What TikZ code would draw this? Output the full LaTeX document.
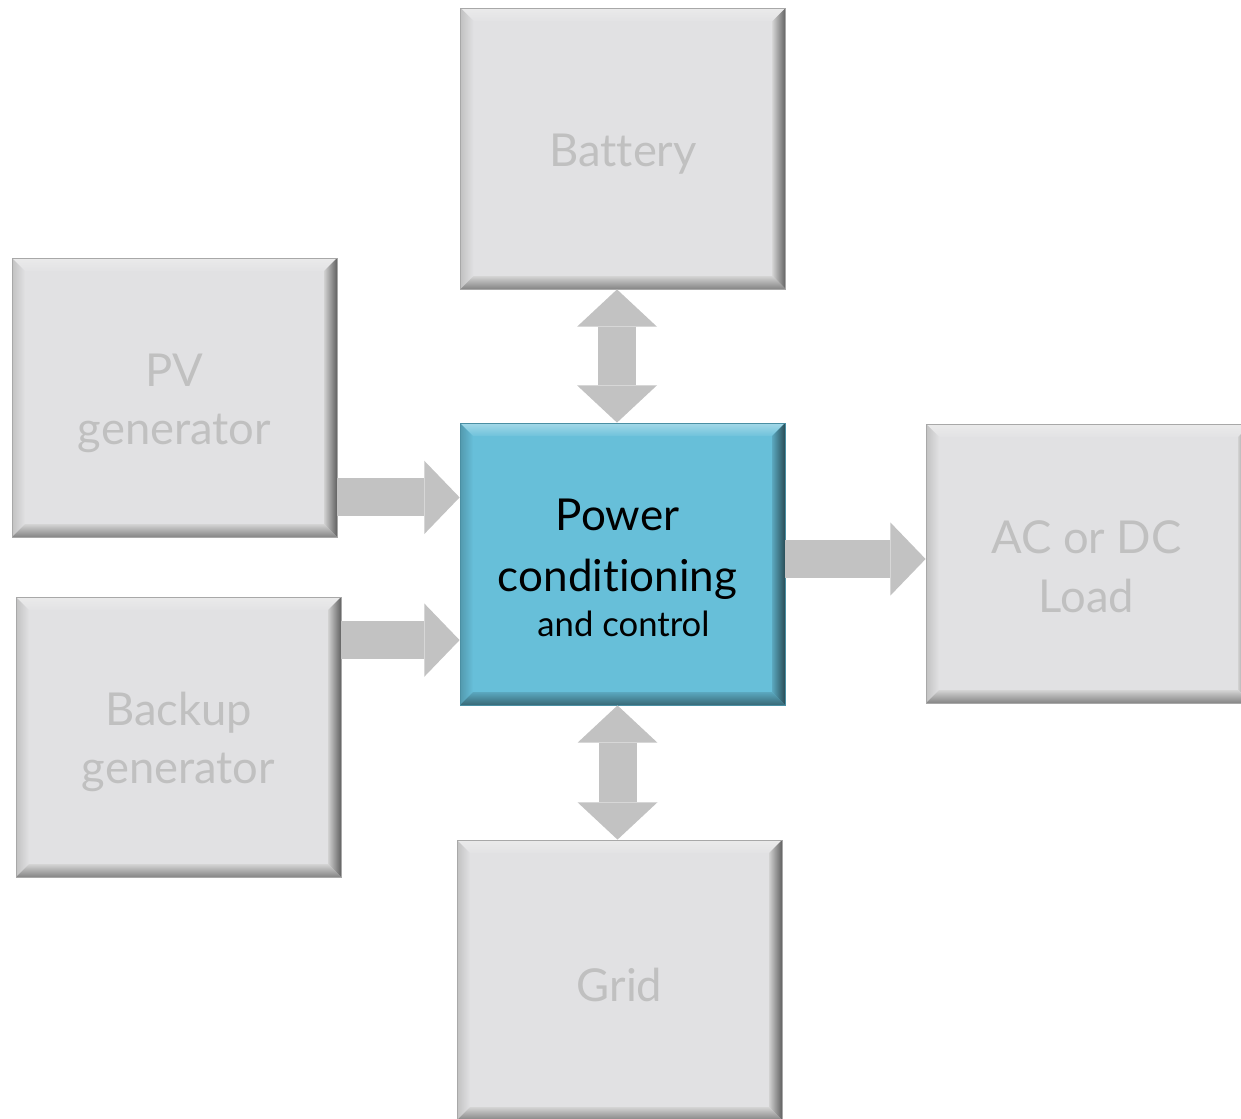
\documentclass[tikz,border=0pt]{standalone}
\usepackage{fontspec}
\setmainfont{Lato}[Ligatures={NoCommon}]
\usetikzlibrary{calc,arrows.meta}
\definecolor{boxfill}{HTML}{E1E1E3}
\definecolor{boxtext}{HTML}{C0C0C0}
\definecolor{boxline}{HTML}{A8A8A8}
\definecolor{bluefill}{HTML}{67BFD9}
\definecolor{blueline}{HTML}{4A8FA3}
\definecolor{arrowgrey}{HTML}{C2C2C2}
\newlength{\bw}
\setlength{\bw}{9.75pt}
\tikzset{
  bevelbox/.style n args={8}{
    rectangle, inner sep=0pt,
    path picture={
      \coordinate (NW) at (path picture bounding box.north west);
      \coordinate (NE) at (path picture bounding box.north east);
      \coordinate (SW) at (path picture bounding box.south west);
      \coordinate (SE) at (path picture bounding box.south east);
      \shade[top color=#1,bottom color=#2] (NW) -- (NE) -- ([xshift=-\bw,yshift=-\bw]NE) -- ([xshift=\bw,yshift=-\bw]NW) -- cycle;
      \shade[left color=#3,right color=#4] (NW) -- ([xshift=\bw,yshift=-\bw]NW) -- ([xshift=\bw,yshift=\bw]SW) -- (SW) -- cycle;
      \shade[left color=#5,right color=#6] (NE) -- (SE) -- ([xshift=-\bw,yshift=\bw]SE) -- ([xshift=-\bw,yshift=-\bw]NE) -- cycle;
      \shade[top color=#7,bottom color=#8] (SW) -- ([xshift=\bw,yshift=\bw]SW) -- ([xshift=-\bw,yshift=\bw]SE) -- (SE) -- cycle;
    }
  },
  greybox/.style={
    bevelbox={white!92!black}{boxfill!95!white}{black!24}{boxfill}{black!18}{black!62}{black!17}{black!48},
    fill=boxfill, draw=boxline, line width=0.6pt,
    minimum width=243.75pt, minimum height=210pt
  },
  bluebox/.style={
    bevelbox={bluefill!60!white}{bluefill!95!white}{bluefill!80!black}{bluefill}{bluefill!88!black}{bluefill!40!black}{bluefill!88!black}{bluefill!55!black},
    fill=bluefill, draw=blueline, line width=0.6pt,
    minimum width=243.75pt, minimum height=211.5pt
  },
  greytext/.style={text=boxtext, align=center, inner sep=0pt,
    font=\fontsize{34}{44}\selectfont},
  bluetext/.style={text=black, align=center, inner sep=0pt,
    font=\fontsize{33}{46}\selectfont},
  fatarrow/.style={draw=arrowgrey, line width=28.5pt,
    -{Triangle[width=55pt,length=26.5pt,line width=0pt]}},
  fatdouble/.style={draw=arrowgrey, line width=28.5pt,
    {Triangle[width=60pt,length=28pt,line width=0pt]}-{Triangle[width=60pt,length=28pt,line width=0pt]}}
}
\begin{document}
\begin{tikzpicture}[x=0.75pt,y=-0.75pt]
\useasboundingbox (0,0) rectangle (1241,1118);
\node[greybox, minimum height=210.75pt] (battery) at (623,148.5) {};
\node[greybox, minimum height=209.25pt] (pv) at (174.5,397.5) {};
\node[greybox] (backup) at (178.5,737) {};
\node[bluebox] (center) at (622.5,564) {};
\node[greybox, minimum height=209.25pt] (load) at (1088.5,563.5) {};
\node[greybox] (grid) at (619.5,980) {};

\node[greytext] (batterytxt) at ($(battery.center)+(0,6)$) {Battery};
\node[greytext] (pvtxt) at ($(pv.center)+(0,6)$) {PV\\generator};
\node[greytext] (backuptxt) at ($(backup.center)+(0,5)$) {Backup\\generator};
\node[greytext] (loadtxt) at ($(load.center)+(-2,3)$) {AC or DC\\Load};
\node[greytext] (gridtxt) at ($(grid.center)+(0,5)$) {Grid};
\node[bluetext] (centertxt) at ($(center.center)+(-5,4)$) {Power\\conditioning\\[-12pt]{\fontsize{26}{34}\selectfont\hspace*{9pt}and control}};

\coordinate (a1) at ($(pv.south east)+(0,-40)$);
\draw[fatarrow] (a1) -- (a1 -| center.west);
\coordinate (a2) at ($(backup.north east)+(0,43.5)$);
\draw[fatarrow] (a2) -- (a2 -| center.west);
\coordinate (a3) at ($(center.east)+(0,-5)$);
\draw[fatarrow] (a3) -- (a3 -| load.west);
\coordinate (a4) at ($(battery.south)+(-6,0)$);
\draw[fatdouble] (a4) -- (a4 |- center.north);
\coordinate (a5) at ($(center.south)+(-5,0)$);
\draw[fatdouble] (a5) -- (a5 |- grid.north);
\end{tikzpicture}
\end{document}
